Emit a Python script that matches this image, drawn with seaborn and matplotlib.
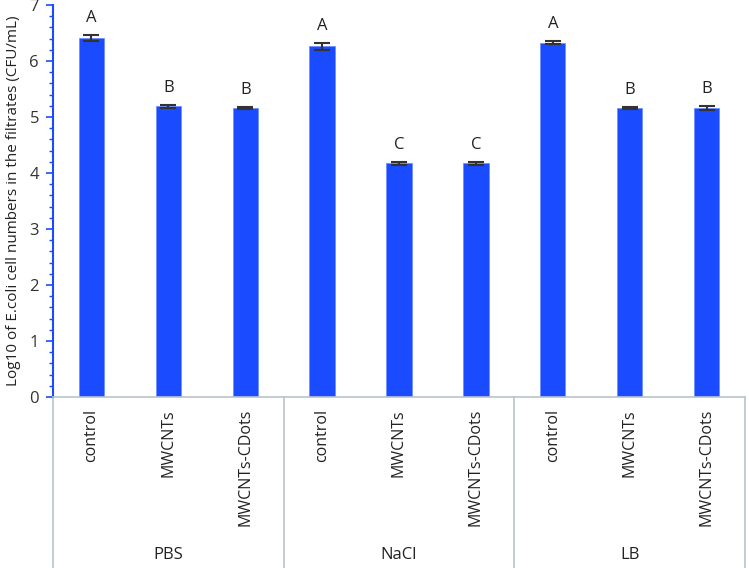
import matplotlib
matplotlib.use("Agg")
import matplotlib.pyplot as plt
import matplotlib.transforms as mtransforms
from matplotlib.ticker import MultipleLocator
import seaborn as sns
import pandas as pd
import numpy as np

groups = ["PBS", "NaCl", "LB"]
treatments = ["control", "MWCNTs", "MWCNTs-CDots"]
values = [6.41, 5.19, 5.16, 6.26, 4.17, 4.17, 6.33, 5.16, 5.16]
errors = [0.05, 0.03, 0.02, 0.07, 0.02, 0.02, 0.02, 0.02, 0.03]
letters = ["A", "B", "B", "A", "C", "C", "A", "B", "B"]

sns.set_theme(style="white")
plt.rcParams['font.family'] = ['Open Sans', 'DejaVu Sans']

rows = []
for gi, g in enumerate(groups):
    for ti, t in enumerate(treatments):
        rows.append({"key": f"{g}|{t}", "group": g, "treatment": t,
                     "value": values[gi * 3 + ti]})
df = pd.DataFrame(rows)

fig = plt.figure(figsize=(7.49, 5.68), dpi=100)
ax = fig.add_axes([53/749, (568-397)/568, (745-53)/749, (397-5)/568])

sns.barplot(data=df, x="key", y="value", order=list(df["key"]), color="#1a4bff",
            saturation=1, width=0.33, ax=ax, errorbar=None,
            edgecolor="#6f8fff", linewidth=0.6)
xs = np.arange(len(values))
ax.errorbar(xs, values, yerr=errors, fmt="none", ecolor="#333333",
            elinewidth=1.5, capsize=6, capthick=1.5)
for x, v, e, l in zip(xs, values, errors, letters):
    ax.text(x, v + e + 0.16, l, ha="center", va="bottom", fontsize=12, color="#222222")

ax.set_ylim(0, 7)
ax.set_xlim(-0.5, len(values) - 0.5)
ax.yaxis.set_major_locator(MultipleLocator(1))
ax.yaxis.set_minor_locator(MultipleLocator(0.2))
ax.tick_params(axis="y", which="major", direction="out", length=5, width=1.2,
               color="#1a4bff", labelsize=12, labelcolor="#333333", left=True, pad=5)
ax.tick_params(axis="y", which="minor", direction="out", length=3, width=1,
               color="#1a4bff", left=True)
ax.set_xticks([])
ax.set_xlabel("")
ax.set_ylabel("Log10 of E.coli cell numbers in the filtrates (CFU/mL)",
              fontsize=11, color="#222222", labelpad=6)
for s in ["top", "right"]:
    ax.spines[s].set_visible(False)
ax.spines["left"].set_color("#1a4bff")
ax.spines["left"].set_linewidth(1.5)
ax.spines["bottom"].set_color("#b8c4cc")
ax.spines["bottom"].set_linewidth(1.2)

trans = mtransforms.blended_transform_factory(ax.transData, ax.transAxes)
bottom_ax = -(568 - 397) / 392
for b in [-0.5, 2.5, 5.5, 8.5]:
    ax.plot([b, b], [0, bottom_ax], transform=trans, color="#b8c4cc",
            lw=1.2, clip_on=False)
for x, t in zip(xs, treatments * 3):
    ax.text(x, -12 / 392, t, transform=trans, rotation=90, ha="center",
            va="top", fontsize=11.5, color="#222222")
for gi, g in enumerate(groups):
    ax.text(gi * 3 + 1, -(555 - 397) / 392, g, transform=trans, ha="center",
            va="center", fontsize=12, color="#222222")

fig.savefig("out.png", dpi=100)
